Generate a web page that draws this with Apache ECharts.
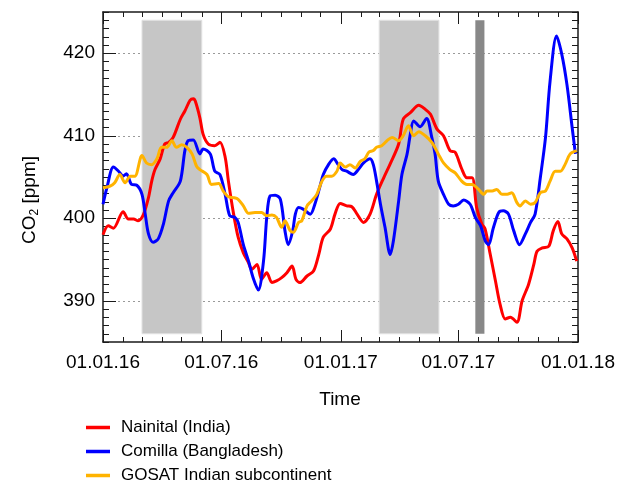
<!DOCTYPE html>
<html>
<head>
<meta charset="utf-8">
<script src="https://cdn.jsdelivr.net/npm/echarts@6/dist/echarts.min.js"></script>
<style>
html, body { margin: 0; padding: 0; background: #fff; }
#main { width: 618px; height: 481px; }
</style>
</head>
<body>
<div id="main"></div>
<script>
// x values are days since 01.01.2016
const tickDays = [0, 182, 366, 547, 731]
const tickLabels = ['01.01.16', '01.07.16', '01.01.17', '01.07.17', '01.01.18']
const monthDays = [31, 60, 91, 121, 152, 213, 244, 274, 305, 335, 397, 425, 456, 486, 517, 578, 609, 639, 670, 700]
const yLabelValues = [390, 400, 410, 420]

// shaded periods (days) and their vertical extent (ppm)
const seasonSpans = [[60, 152], [425, 517]]
const campaignSpan = [573, 587]
const bandRange = [386, 424]

const nainitalDays = [0, 8, 16, 31, 39, 47, 54, 62, 70, 75, 80, 88, 95, 101, 108, 119, 126, 134, 139, 142,
  149, 154, 162, 172, 180, 188, 193, 201, 208, 216, 224, 229, 237, 244, 252, 260, 267, 275, 283, 291,
  297, 303, 314, 324, 332, 339, 350, 357, 365, 375, 383, 391, 401, 411, 421, 432, 442, 455, 462, 473,
  486, 496, 504, 514, 524, 534, 542, 552, 560, 568, 575, 583, 588, 596, 604, 611, 619, 627, 637, 645,
  655, 663, 668, 676, 686, 693, 700, 706, 714, 722, 729]
const nainitalCO2 = [398.0, 399.1, 398.8, 400.8, 399.9, 399.9, 399.7, 400.4, 402.5, 404.5, 405.9, 407.2, 409.0, 409.2, 409.8, 412.0, 413.0, 414.3, 414.5, 414.2,
  412.2, 410.2, 409.0, 408.8, 409.2, 407.4, 404.5, 400.5, 397.7, 395.8, 394.6, 393.8, 394.4, 392.6, 393.4, 392.2, 392.4, 392.8, 393.4, 394.2,
  392.6, 392.2, 393.0, 393.6, 395.6, 397.7, 398.7, 400.5, 401.8, 401.5, 401.4, 400.5, 399.5, 400.5, 402.9, 404.9, 406.6, 409.0, 412.0, 412.8,
  413.7, 413.2, 412.6, 410.8, 410.0, 408.2, 408.0, 406.0, 404.9, 404.9, 401.3, 399.3, 398.7, 395.6, 392.4, 389.6, 387.8, 388.0, 387.4, 390.0,
  392.0, 394.4, 396.0, 396.4, 396.6, 398.5, 399.6, 398.1, 397.5, 396.4, 394.8]

const comillaDays = [0, 6, 16, 24, 31, 36, 44, 52, 60, 65, 70, 77, 85, 93, 101, 108, 119, 126, 131, 139,
  149, 154, 165, 172, 180, 188, 195, 203, 208, 216, 224, 231, 239, 247, 252, 257, 265, 273, 280,
  285, 292, 296, 301, 308, 319, 326, 334, 339, 347, 355, 362, 368, 375, 385, 393, 401, 411, 416, 421,
  427, 434, 442, 447, 455, 460, 468, 473, 478, 488, 498, 506, 511, 516, 524, 532, 539, 547, 555, 565,
  573, 581, 588, 593, 601, 609, 616, 624, 632, 641, 650, 658, 665, 673, 681, 688, 698, 706, 714, 722, 727]
const comillaCO2 = [401.7, 403.7, 406.2, 405.7, 405.1, 405.4, 404.1, 404.0, 402.9, 400.5, 398.1, 397.1, 397.5, 399.3, 402.1, 403.1, 404.5, 408.2, 409.4, 409.5,
  407.8, 408.4, 407.8, 405.7, 405.3, 402.9, 400.3, 400.1, 399.5, 396.8, 394.8, 392.8, 391.3, 394.8, 400.1, 402.7, 402.8, 402.3, 398.5,
  396.8, 398.5, 400.5, 401.3, 401.1, 400.5, 401.7, 403.9, 405.3, 406.5, 407.2, 406.5, 405.9, 405.7, 405.3, 405.9, 406.7, 407.2, 406.5, 404.5,
  401.7, 398.9, 395.6, 397.3, 402.1, 405.3, 407.8, 410.2, 411.8, 411.1, 412.1, 409.8, 407.8, 404.5, 402.9, 401.7, 401.5, 401.7, 402.2, 401.7,
  400.1, 399.1, 397.3, 396.8, 398.9, 400.7, 400.9, 400.5, 398.5, 396.8, 398.1, 399.5, 400.5, 404.9, 409.8, 416.6, 422.1, 419.9, 416.2, 411.0, 407.8]

const gosatDays = [0, 11, 18, 26, 34, 42, 49, 60, 67, 75, 83, 90, 98, 106, 113, 121, 129, 137, 144, 149,
  160, 167, 178, 185, 193, 201, 208, 216, 224, 234, 244, 252, 260, 267, 275, 280, 288, 293, 301, 306,
  314, 321, 329, 337, 344, 352, 360, 365, 373, 380, 388, 396, 403, 409, 416, 421, 429, 437, 445, 455,
  462, 470, 478, 486, 496, 506, 516, 524, 534, 542, 552, 560, 568, 578, 586, 591, 599, 606, 614, 622,
  629, 637, 642, 650, 658, 665, 673, 681, 688, 696, 704, 711, 719, 729]
const gosatCO2 = [403.7, 403.9, 404.3, 405.3, 404.3, 405.1, 405.1, 407.6, 406.7, 406.5, 407.2, 408.6, 408.6, 409.4, 408.6, 408.9, 408.6, 407.8, 406.3, 405.9,
  405.3, 404.1, 404.2, 403.3, 402.6, 402.5, 402.3, 401.5, 400.6, 400.7, 400.7, 400.3, 400.4, 400.1, 398.9, 399.7, 398.5, 398.3, 399.5, 399.7,
  401.5, 402.1, 402.9, 404.5, 405.1, 405.1, 405.7, 406.7, 406.2, 406.5, 406.1, 406.9, 407.2, 408.0, 408.2, 408.6, 408.8, 409.4, 409.8, 409.4,
  410.0, 411.2, 410.0, 410.5, 410.0, 409.2, 407.8, 406.7, 405.9, 405.5, 404.5, 404.1, 404.1, 403.5, 402.9, 403.3, 403.3, 403.5, 402.9, 402.9,
  403.1, 401.9, 401.5, 402.1, 401.7, 401.9, 403.1, 403.3, 404.5, 405.7, 405.7, 406.5, 407.8, 408.2]

const FONT = 'Liberation Sans'
const frame = { color: '#1a1a1a', width: 1.5 }
const tickStyle = { color: '#1a1a1a', width: 1 }

const zip = (xs, ys) => xs.map((x, i) => [x, ys[i]])

function lineSeries(name, days, vals, color) {
  return {
    name: name,
    type: 'line',
    data: zip(days, vals),
    showSymbol: false,
    smooth: 0.3,
    z: 3,
    lineStyle: { color: color, width: 3 },
    itemStyle: { color: color },
  }
}

function xAxisDef(position, ticks, len, showLine, showLabel) {
  return {
    type: 'value', position: position, min: 0, max: 731,
    axisLine: { show: showLine, onZero: false, lineStyle: frame },
    axisTick: { show: true, inside: true, length: len, customValues: ticks, lineStyle: tickStyle },
    axisLabel: {
      show: showLabel, customValues: tickDays, margin: 11,
      fontFamily: FONT, fontSize: 19, color: '#000',
      formatter: (v) => tickLabels[tickDays.indexOf(v)],
    },
    splitLine: { show: false },
  }
}

function yAxisDef(position, interval, ticks, len, showLine, showLabel, grid) {
  return {
    type: 'value', position: position, min: 385, max: 425, interval: interval,
    axisLine: { show: showLine, onZero: false, lineStyle: frame },
    axisTick: { show: true, inside: true, length: len, customValues: ticks, lineStyle: tickStyle },
    axisLabel: { show: showLabel, customValues: yLabelValues, margin: 8, fontFamily: FONT, fontSize: 19, color: '#000' },
    splitLine: { show: grid, lineStyle: { color: '#9a9a9a', width: 1, type: [2, 3] } },
  }
}

const lowTicks = []
for (let v = 385; v <= 425; v++) lowTicks.push(v)

const shadeData = seasonSpans.map((s) => [
  { xAxis: s[0], yAxis: bandRange[0], itemStyle: { color: '#c6c6c6', borderColor: '#e2e2e2', borderWidth: 1 } },
  { xAxis: s[1], yAxis: bandRange[1] },
])
shadeData.push([
  { xAxis: campaignSpan[0], yAxis: bandRange[0], itemStyle: { color: '#888888' } },
  { xAxis: campaignSpan[1], yAxis: bandRange[1] },
])

var myChart = echarts.init(document.getElementById('main'))
var option = {
  animation: false,
  grid: { left: 103, top: 12, width: 475, height: 330 },
  xAxis: [
    xAxisDef('bottom', tickDays, 12, true, true),
    xAxisDef('bottom', monthDays, 5, false, false),
    xAxisDef('top', tickDays, 12, true, false),
    xAxisDef('top', monthDays, 5, false, false),
  ],
  yAxis: [
    yAxisDef('left', 5, yLabelValues, 13, true, true, true),
    yAxisDef('left', 1, lowTicks, 6, false, false, false),
    yAxisDef('right', 1, lowTicks, 6, true, false, false),
  ],
  legend: {
    data: ['Nainital (India)', 'Comilla (Bangladesh)', 'GOSAT Indian subcontinent'],
    orient: 'vertical', left: 86, top: 419, padding: 0, height: 80,
    icon: 'rect', itemWidth: 24, itemHeight: 3.5, itemGap: 7,
    textStyle: { fontFamily: FONT, fontSize: 17, lineHeight: 16, color: '#000', padding: [0, 0, 0, 6] },
  },
  graphic: [
    {
      type: 'text', x: 30, y: 200, rotation: Math.PI / 2,
      style: {
        text: 'CO{sub|2} [ppm]', align: 'center', verticalAlign: 'middle',
        font: '19px "Liberation Sans"', fill: '#000',
        rich: { sub: { fontSize: 12, fontFamily: FONT, padding: [9, 0, 0, 0] } },
      },
    },
    {
      type: 'text', x: 340, y: 400,
      style: { text: 'Time', align: 'center', verticalAlign: 'middle', font: '19px "Liberation Sans"', fill: '#000' },
    },
  ],
  series: [
    {
      name: 'periods', type: 'line', data: [], z: 1, silent: true,
      markArea: { silent: true, data: shadeData },
    },
    lineSeries('Nainital (India)', nainitalDays, nainitalCO2, '#ff0000'),
    lineSeries('Comilla (Bangladesh)', comillaDays, comillaCO2, '#0000ff'),
    lineSeries('GOSAT Indian subcontinent', gosatDays, gosatCO2, '#ffb300'),
  ],
}
option && myChart.setOption(option)
</script>
</body>
</html>
